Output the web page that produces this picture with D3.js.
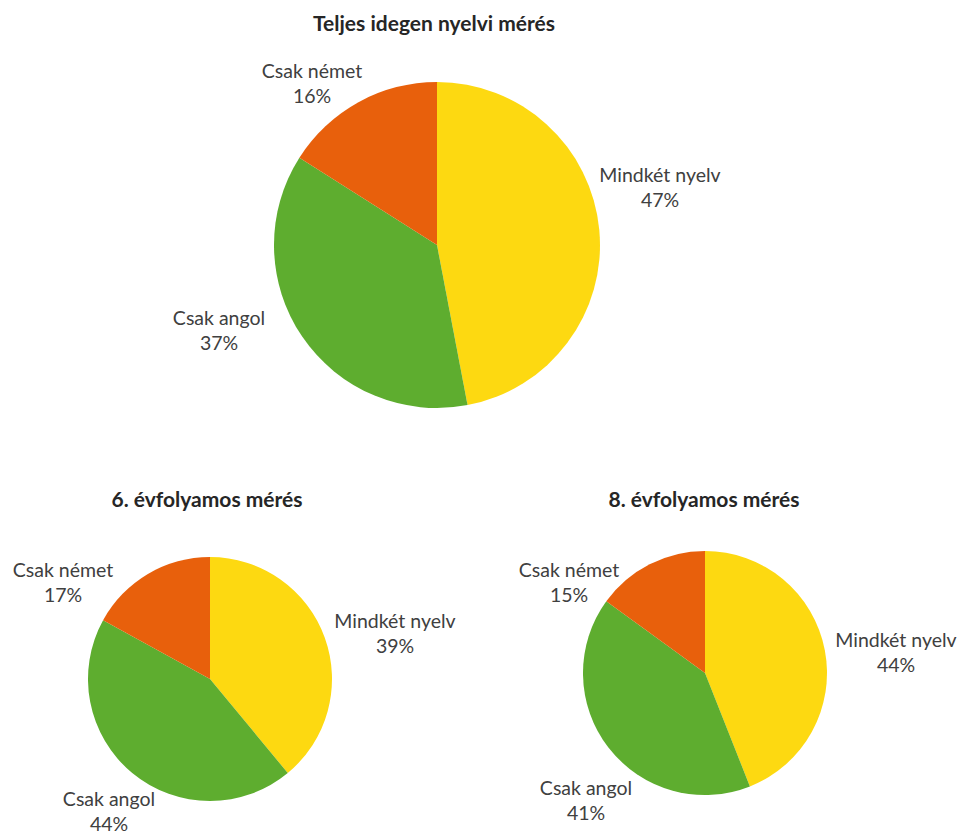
<!DOCTYPE html>
<html>
<head>
<meta charset="utf-8">
<script src="https://cdn.jsdelivr.net/npm/d3@7"></script>
<style>
  html, body { margin: 0; padding: 0; background: #fff; }
  svg { display: block; }
</style>
</head>
<body>
<svg id="chart" width="961" height="836"></svg>
<script>
// Data
const categories = ["Mindkét nyelv", "Csak angol", "Csak német"];
const titles = ["Teljes idegen nyelvi mérés", "6. évfolyamos mérés", "8. évfolyamos mérés"];
const valuesTotal = [47, 37, 16];
const valuesGrade6 = [39, 44, 17];
const valuesGrade8 = [44, 41, 15];
const colors = ["#FDD911", "#5EAD2F", "#E8600C"];

// Layout (positions kept separate from data); label = [centerX, baseline of first line]
const layouts = [
  { values: valuesTotal, title: titles[0], cx: 437, cy: 245, r: 163, titleX: 434, titleY: 31,
    labels: [[660, 182], [219, 325], [312, 78]] },
  { values: valuesGrade6, title: titles[1], cx: 210, cy: 679, r: 122, titleX: 207, titleY: 507,
    labels: [[395, 628], [109, 806], [63, 577]] },
  { values: valuesGrade8, title: titles[2], cx: 705, cy: 673, r: 122, titleX: 704, titleY: 507,
    labels: [[896, 647], [586, 795], [569, 577]] }
];

const svg = d3.select("#chart");
const color = d3.scaleOrdinal().domain(categories).range(colors);
const pie = d3.pie().sort(null).value(d => d.value);
const font = "Lato, 'Open Sans', sans-serif";

layouts.forEach(L => {
  const data = categories.map((c, i) => ({ cat: c, value: L.values[i] }));
  const arcs = pie(data);
  const arc = d3.arc().innerRadius(0).outerRadius(L.r);
  const g = svg.append("g").attr("transform", `translate(${L.cx},${L.cy})`);
  g.selectAll("path").data(arcs).join("path")
    .attr("d", arc)
    .attr("fill", d => color(d.data.cat));

  svg.append("text")
    .attr("x", L.titleX).attr("y", L.titleY)
    .attr("text-anchor", "middle")
    .attr("font-family", font)
    .attr("font-weight", "bold")
    .attr("font-size", 21)
    .attr("fill", "#262626")
    .text(L.title);

  arcs.forEach((a, i) => {
    const [lx, ly] = L.labels[i];
    const t = svg.append("text")
      .attr("text-anchor", "middle")
      .attr("font-family", font)
      .attr("font-size", 19.5)
      .attr("fill", "#404040");
    t.append("tspan").attr("x", lx).attr("y", ly).text(a.data.cat);
    t.append("tspan").attr("x", lx).attr("y", ly + 25).text(a.data.value + "%");
  });
});
</script>
</body>
</html>
